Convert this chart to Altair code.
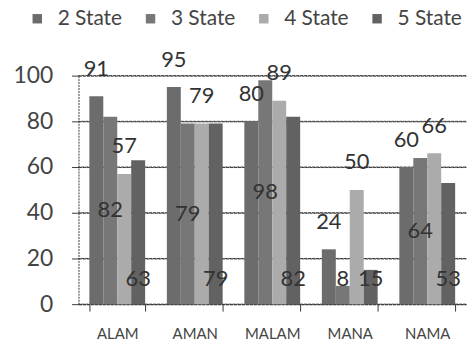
import altair as alt
import pandas as pd

categories = ["ALAM", "AMAN", "MALAM", "MANA", "NAMA"]
series = ["2 State", "3 State", "4 State", "5 State"]
values = {
    "2 State": [91, 95, 80, 24, 60],
    "3 State": [82, 79, 98, 8, 64],
    "4 State": [57, 79, 89, 50, 66],
    "5 State": [63, 79, 82, 15, 53],
}
y_ticks = [0, 20, 40, 60, 80, 100]
colors = ["#6c6c6c", "#777777", "#ababab", "#626262"]

rows = []
for s in series:
    for c, v in zip(categories, values[s]):
        rows.append({"cat": c, "series": s, "value": v})
df = pd.DataFrame(rows)
tick_df = pd.DataFrame({"v": y_ticks})

FONT = "Lato"
yscale = alt.Scale(domain=[0, 100], nice=False)
yaxis = alt.Axis(title=None, values=y_ticks, grid=True, gridColor="#3a3a3a",
                 gridDash=[3, 1], gridWidth=1, tickSize=7, tickColor="#3a3a3a",
                 domainColor="#3a3a3a", domainDash=[2, 1], labelFontSize=23,
                 labelFont=FONT, labelColor="#444", labelPadding=19)

grid = alt.Chart(tick_df).mark_rule(color="#3a3a3a", strokeDash=[3, 1], strokeWidth=1).encode(
    y=alt.Y("v:Q", scale=yscale, axis=yaxis),
)

base = alt.Chart(df).encode(
    x=alt.X("cat:N", sort=categories,
            scale=alt.Scale(paddingInner=0.28, paddingOuter=0.14),
            axis=alt.Axis(title=None, labelAngle=0, labelFontSize=15, labelColor="#444",
                          labelFont=FONT, tickBand="extent", tickSize=7, tickColor="#3a3a3a",
                          domainColor="#3a3a3a", domainDash=[3, 1], labelPadding=16,
                          grid=False)),
    xOffset=alt.XOffset("series:N", sort=series, scale=alt.Scale(paddingInner=0, paddingOuter=0)),
)

bars = base.mark_bar().encode(
    y=alt.Y("value:Q", scale=yscale, axis=yaxis),
    color=alt.Color("series:N", sort=series,
                    scale=alt.Scale(domain=series, range=colors),
                    legend=alt.Legend(title=None, orient="none", direction="horizontal",
                                      legendX=-52, legendY=-68, symbolType="square",
                                      symbolSize=90, labelFontSize=21,
                                      labelFont=FONT, labelColor="#444", labelOffset=10,
                                      columnPadding=18)),
)

labels = base.transform_calculate(
    pos="datum.series == '3 State' ? max(datum.value / 2, 11) : (datum.series == '5 State' ? 11 : datum.value + 12)"
).mark_text(fontSize=22, font=FONT, color="#333", baseline="middle").encode(
    y=alt.Y("pos:Q", scale=yscale, axis=yaxis),
    text=alt.Text("value:Q"),
)

chart = alt.layer(grid, bars, labels).properties(
    width=390, height=230,
    padding={"left": 12, "top": 7, "right": 0, "bottom": 5},
).configure_view(strokeWidth=0)

chart.save("out.html", embed_options={"renderer": "svg", "actions": False})
